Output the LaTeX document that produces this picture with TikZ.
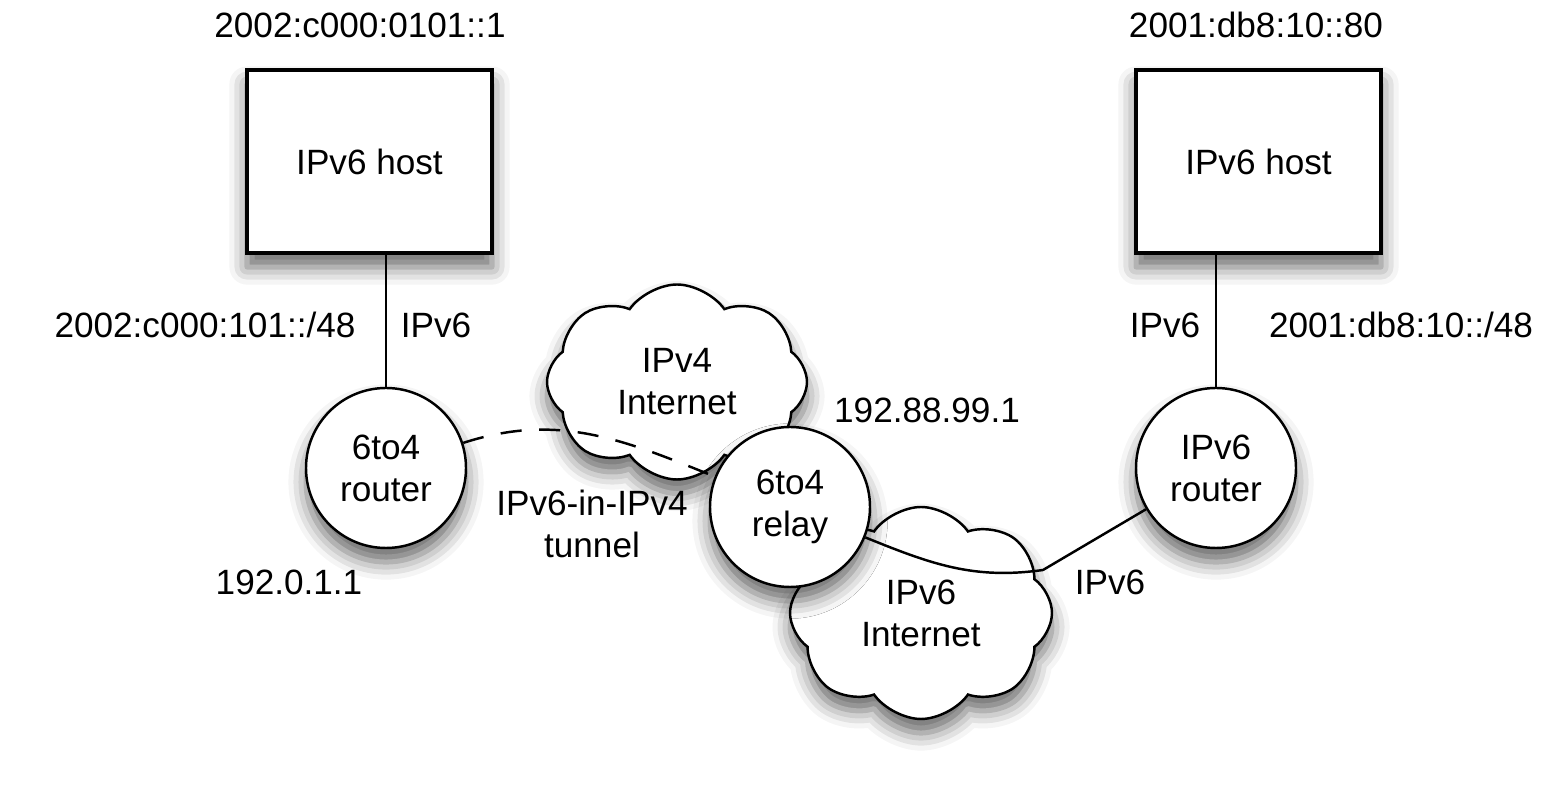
\documentclass[tikz,border=0pt]{standalone}
\usepackage{fontspec}
\setmainfont{Liberation Sans}
\usepackage{tikz}
\usetikzlibrary{positioning, shapes.symbols, shadows.blur}

\tikzset{
  shade/.style={blur shadow={shadow xshift=0pt, shadow yshift=-4pt, shadow blur radius=5pt, shadow opacity=60}},
  host/.style={rectangle, draw, line width=0.9pt, fill=white, shade, minimum width=2.45cm, minimum height=1.83cm, inner sep=0pt},
  router/.style={circle, draw, line width=0.7pt, fill=white, shade, minimum size=1.6cm, inner sep=0pt, align=center},
  net/.style={cloud, draw, line width=0.7pt, fill=white, shade, cloud puffs=8, cloud puff arc=110, cloud ignores aspect, inner sep=0pt, align=center},
  lbl/.style={inner sep=0pt, align=center},
  link/.style={line width=0.7pt}
}

\begin{document}
\begin{tikzpicture}[font=\fontsize{10}{12}\selectfont]
    \useasboundingbox (0,0) rectangle (15.67,-7.86);
    % hosts
    \node[host] (lhost) at (3.695,-1.615) {IPv6 host};
    \node[host] (rhost) at (12.585,-1.615) {IPv6 host};
    \node[lbl] (laddr) at (3.60,-0.25) {2002:c000:0101::1};
    \node[lbl] (raddr) at (12.56,-0.25) {2001:db8:10::80};
    % clouds
    \node[net, minimum width=2.6cm, minimum height=1.95cm] (v4net) at (6.77,-3.82) {IPv4\\Internet};
    \node[net, minimum width=2.62cm, minimum height=2.12cm] (v6net) at (9.21,-6.13) {IPv6\\Internet};
    % routers
    \node[router] (lrouter) at (3.86,-4.68) {6to4\\router};
    \node[router] (rrouter) at (12.16,-4.68) {IPv6\\router};
    \node[router] (relay) at (7.90,-5.07) {6to4\\relay};
    \coordinate (bend) at (10.43,-5.70);
    % links
    \draw[link] (lhost.south -| lrouter) -- (lrouter);
    \draw[link] (rhost.south -| rrouter) -- (rrouter);
    \draw[link, dashed, dash pattern=on 6pt off 5pt] (lrouter) to[out=18, in=158] (relay);
    \draw[link] (relay) to[out=-22, in=188] (bend) -- (rrouter);
    % labels
    \node[lbl] (lpfx) at (2.05,-3.25) {2002:c000:101::/48};
    \node[lbl] (lv6) at (4.36,-3.25) {IPv6};
    \node[lbl] (rv6) at (11.65,-3.25) {IPv6};
    \node[lbl] (rpfx) at (14.01,-3.25) {2001:db8:10::/48};
    \node[lbl] (relayaddr) at (9.27,-4.10) {192.88.99.1};
    \node[lbl] (tunnel) at (5.92,-5.24) {IPv6-in-IPv4\\tunnel};
    \node[lbl] (routeraddr) at (2.89,-5.82) {192.0.1.1};
    \node[lbl] (bv6) at (11.10,-5.82) {IPv6};
\end{tikzpicture}
\end{document}
